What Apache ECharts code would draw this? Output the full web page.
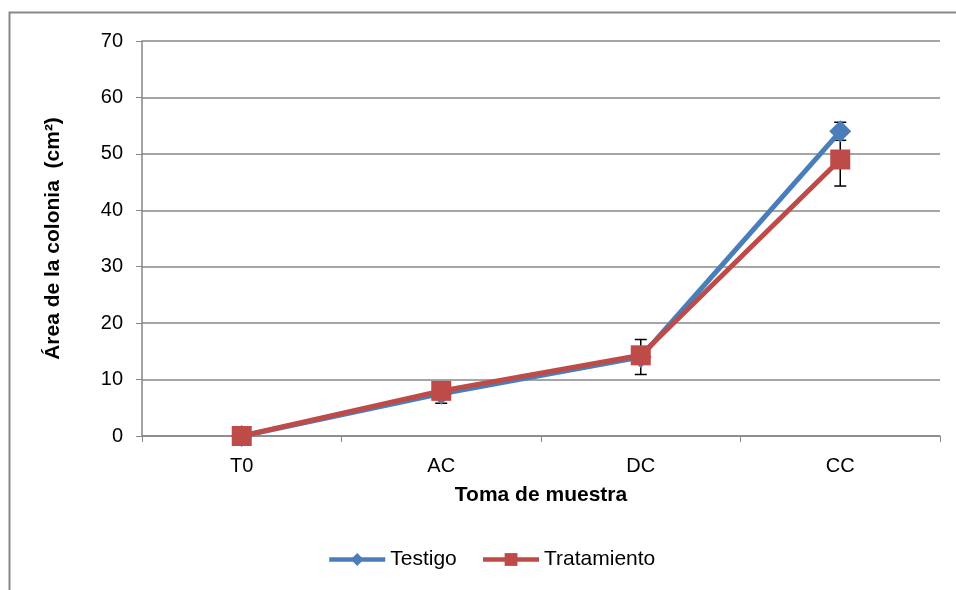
<!DOCTYPE html>
<html>
<head>
<meta charset="utf-8">
<script src="https://cdn.jsdelivr.net/npm/echarts@6/dist/echarts.min.js"></script>
<style>html,body{margin:0;padding:0;background:#fff}#c{width:956px;height:590px}</style>
</head>
<body>
<div id="c"></div>
<script>
var categories = ['T0', 'AC', 'DC', 'CC'];
var testigo = [0, 7.5, 14.0, 54.0];
var testigoErr = [0, 1.7, 3.1, 1.6];
var tratamiento = [0, 8.0, 14.3, 49.0];
var tratamientoErr = [0, 1.0, 1.5, 4.7];
var yTicks = [0, 10, 20, 30, 40, 50, 60, 70];

function errData(vals, errs) {
  return vals.map(function (v, i) { return [i, v - errs[i], v + errs[i]]; });
}
function errSeries(vals, errs) {
  return {
    type: 'custom',
    z: 1,
    silent: true,
    data: errData(vals, errs),
    renderItem: function (params, api) {
      var lo = api.value(1), hi = api.value(2);
      if (hi - lo <= 0) return null;
      var p1 = api.coord([api.value(0), lo]);
      var p2 = api.coord([api.value(0), hi]);
      var hw = 6;
      var st = { stroke: '#000', lineWidth: 1.5 };
      return {
        type: 'group',
        children: [
          { type: 'line', shape: { x1: p1[0], y1: p1[1], x2: p2[0], y2: p2[1] }, style: st },
          { type: 'line', shape: { x1: p1[0] - hw, y1: p1[1], x2: p1[0] + hw, y2: p1[1] }, style: st },
          { type: 'line', shape: { x1: p2[0] - hw, y1: p2[1], x2: p2[0] + hw, y2: p2[1] }, style: st }
        ]
      };
    }
  };
}

var chart = echarts.init(document.getElementById('c'));
var font = 'Liberation Sans, Arial, sans-serif';
chart.setOption({
  animation: false,
  textStyle: { fontFamily: font },
  graphic: [{
    type: 'rect', z: -10,
    shape: { x: 9.5, y: 12.5, width: 1000, height: 1000 },
    style: { fill: 'none', stroke: '#878787', lineWidth: 2 }
  }],
  grid: { left: 142, right: 16, top: 41, bottom: 154 },
  legend: {
    bottom: 15,
    left: 322,
    itemWidth: 56,
    itemHeight: 16,
    itemGap: 24,
    textStyle: { fontSize: 21, color: '#000', fontFamily: font },
    lineStyle: { width: 4.5 },
    data: ['Testigo', 'Tratamiento']
  },
  xAxis: {
    type: 'category',
    data: categories,
    boundaryGap: true,
    name: 'Toma de muestra',
    nameLocation: 'middle',
    nameGap: 49,
    nameTextStyle: { fontSize: 21, fontWeight: 'bold', color: '#000', fontFamily: font },
    axisLine: { lineStyle: { color: '#878787', width: 1.5 } },
    axisTick: { show: true, alignWithLabel: false, length: 6, lineStyle: { color: '#878787' } },
    axisLabel: { fontSize: 20, color: '#000', margin: 20, fontFamily: font },
    splitLine: { show: false }
  },
  yAxis: {
    type: 'value',
    min: 0, max: 70, interval: 10,
    name: 'Área de la colonia  (cm²)',
    nameLocation: 'middle',
    nameGap: 78,
    nameTextStyle: { fontSize: 21, fontWeight: 'bold', color: '#000', fontFamily: font },
    axisLine: { show: true, lineStyle: { color: '#878787', width: 1.5 } },
    axisTick: { show: true, length: 6, lineStyle: { color: '#878787' } },
    axisLabel: {
      fontSize: 20, color: '#000', margin: 19, fontFamily: font,
      formatter: function (v) { return yTicks.indexOf(v) >= 0 ? String(v) : ''; }
    },
    splitLine: { show: true, lineStyle: { color: '#878787', width: 1.5 } }
  },
  series: [
    errSeries(testigo, testigoErr),
    errSeries(tratamiento, tratamientoErr),
    {
      name: 'Testigo', type: 'line', z: 3,
      data: testigo,
      symbol: 'diamond', symbolSize: [22, 22],
      lineStyle: { color: '#4A7EBB', width: 5 },
      itemStyle: { color: '#4A7EBB' }
    },
    {
      name: 'Tratamiento', type: 'line', z: 4,
      data: tratamiento,
      symbol: 'rect', symbolSize: 20,
      lineStyle: { color: '#BE4B48', width: 5 },
      itemStyle: { color: '#BE4B48' }
    }
  ]
});
</script>
</body>
</html>
